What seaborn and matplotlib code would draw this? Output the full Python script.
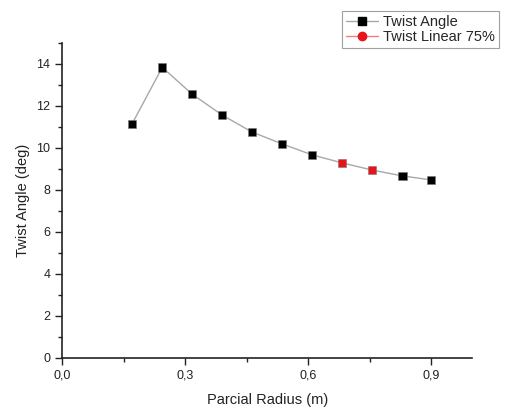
import matplotlib
matplotlib.use("Agg")
import matplotlib.pyplot as plt
from matplotlib.lines import Line2D
from matplotlib.ticker import MultipleLocator, FuncFormatter
import seaborn as sns
import pandas as pd

radius = [0.170, 0.244, 0.317, 0.390, 0.463, 0.537, 0.610, 0.683, 0.756, 0.830, 0.900]
twist = [11.14, 13.84, 12.56, 11.57, 10.76, 10.19, 9.67, 9.29, 8.95, 8.67, 8.48]
series = ["Twist Angle"] * 7 + ["Twist Linear 75%"] * 2 + ["Twist Angle"] * 2
labels = ["Twist Angle", "Twist Linear 75%"]
colors = {"Twist Angle": "black", "Twist Linear 75%": "#e8141b"}

df = pd.DataFrame({"radius": radius, "twist": twist, "series": series})

sns.set_style("ticks")
plt.rcParams["font.family"] = ["Liberation Sans", "DejaVu Sans"]

fig = plt.figure(figsize=(5.05, 4.07), dpi=100)
ax = fig.add_axes([0.1234, 0.1204, 0.8113, 0.7740])

sns.lineplot(data=df, x="radius", y="twist", ax=ax, color="#a8a8a8",
             linewidth=1.0, sort=False, estimator=None, zorder=1)
sns.scatterplot(data=df, x="radius", y="twist", hue="series", palette=colors,
                marker="s", s=36, edgecolor="#777777", linewidth=0.4,
                ax=ax, legend=False, zorder=3)

ax.set_xlim(0, 1.0)
ax.set_ylim(0, 15)
ax.xaxis.set_major_locator(MultipleLocator(0.3))
ax.xaxis.set_minor_locator(MultipleLocator(0.15))
ax.yaxis.set_major_locator(MultipleLocator(2))
ax.yaxis.set_minor_locator(MultipleLocator(1))
ax.xaxis.set_major_formatter(FuncFormatter(lambda v, p: f"{v:.1f}".replace(".", ",")))
ax.set_yticks([0, 2, 4, 6, 8, 10, 12, 14])
ax.tick_params(axis="both", which="major", length=5, width=1, labelsize=9,
               colors="#222222", direction="out")
ax.tick_params(axis="both", which="minor", length=3, width=1, direction="out",
               colors="#222222")
for s in ["left", "bottom"]:
    ax.spines[s].set_linewidth(1.2)
    ax.spines[s].set_color("#222222")
sns.despine(ax=ax)

ax.set_xlabel("Parcial Radius (m)", fontsize=10.5, labelpad=8, color="#222222")
ax.set_ylabel("Twist Angle (deg)", fontsize=10.5, labelpad=5, color="#222222")

handles = [
    Line2D([0], [0], color="#a8a8a8", lw=1, marker="s", markersize=6,
           markerfacecolor="black", markeredgecolor="black"),
    Line2D([0], [0], color="#f08080", lw=1, marker="o", markersize=6,
           markerfacecolor="#e8141b", markeredgecolor="#e8141b"),
]
leg = fig.legend(handles, labels, loc="upper left", bbox_to_anchor=(0.677, 0.973),
                 frameon=True, fancybox=False, fontsize=10.5, handlelength=2.2,
                 borderpad=0.25, labelspacing=0.1, handletextpad=0.4,
                 borderaxespad=0)
leg.get_frame().set_edgecolor("#888888")
leg.get_frame().set_linewidth(0.8)

fig.savefig("out.png", dpi=100)
